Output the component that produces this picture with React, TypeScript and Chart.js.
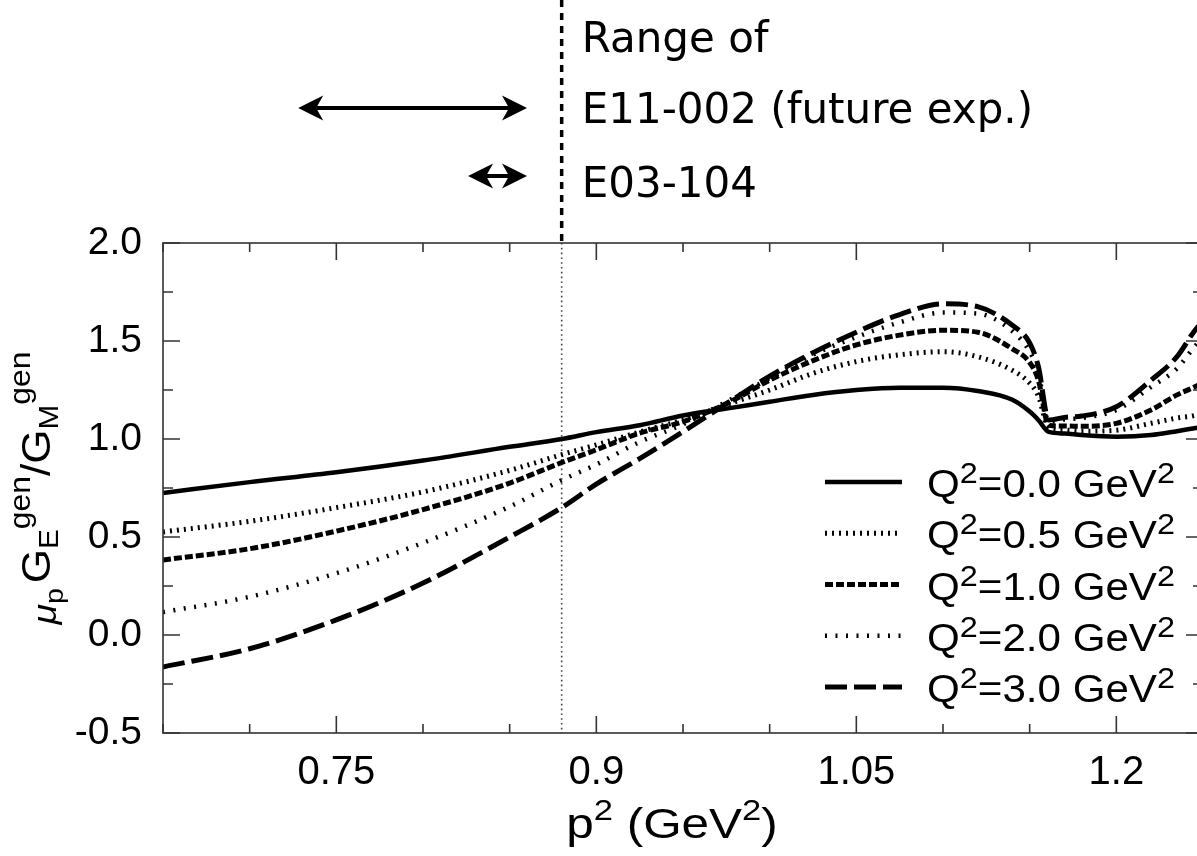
import React, { useEffect, useRef } from "react";
import { Chart, registerables } from "chart.js";

Chart.register(...registerables);

// ---------- data ----------
const p2 = [0.65, 0.70, 0.75, 0.80, 0.85, 0.88, 0.90, 0.925, 0.95, 0.975, 1.00, 1.025, 1.05, 1.075, 1.10, 1.12, 1.14, 1.15, 1.155, 1.161, 1.17, 1.18, 1.20, 1.22, 1.235, 1.245, 1.25];

const q2Labels = ["0.0", "0.5", "1.0", "2.0", "3.0"];

const ratioQ00 = [0.725, 0.78, 0.83, 0.89, 0.96, 1.00, 1.035, 1.07, 1.12, 1.155, 1.19, 1.225, 1.25, 1.262, 1.262, 1.245, 1.20, 1.14, 1.097, 1.036, 1.028, 1.02, 1.012, 1.02, 1.04, 1.055, 1.062];
const ratioQ05 = [0.526, 0.58, 0.65, 0.73, 0.84, 0.92, 0.97, 1.036, 1.097, 1.175, 1.25, 1.335, 1.395, 1.43, 1.445, 1.42, 1.35, 1.285, 1.22, 1.055, 1.046, 1.04, 1.045, 1.08, 1.107, 1.12, 1.135];
const ratioQ10 = [0.383, 0.44, 0.53, 0.64, 0.775, 0.88, 0.945, 1.03, 1.088, 1.18, 1.30, 1.40, 1.48, 1.53, 1.555, 1.545, 1.46, 1.39, 1.30, 1.07, 1.066, 1.065, 1.08, 1.148, 1.225, 1.265, 1.29];
const ratioQ20 = [0.117, 0.195, 0.315, 0.47, 0.655, 0.79, 0.87, 0.985, 1.075, 1.19, 1.31, 1.43, 1.52, 1.595, 1.645, 1.64, 1.55, 1.445, 1.34, 1.088, 1.10, 1.107, 1.148, 1.265, 1.36, 1.47, 1.52];
const ratioQ30 = [-0.163, -0.07, 0.077, 0.265, 0.50, 0.65, 0.77, 0.90, 1.037, 1.18, 1.32, 1.44, 1.545, 1.635, 1.69, 1.675, 1.58, 1.49, 1.37, 1.097, 1.11, 1.117, 1.165, 1.30, 1.42, 1.55, 1.60];

const xMin = 0.65;
const xMax = 1.25;
const xMajorTicks = [0.75, 0.9, 1.05, 1.2];
const xMinorStep = 0.05;
const yMin = -0.5;
const yMax = 2.0;
const yMajorStep = 0.5;
const yMinorStep = 0.25;

const protonMassSq = 0.88; // vertical line
const rangeE11 = [0.728, 0.86];
const rangeE03 = [0.826, 0.86];
const annotationLines = ["Range of", "E11-002 (future exp.)", "E03-104"];

// ---------- styles ----------
const SANS = '"Liberation Sans", Arial, Helvetica, sans-serif';
const COMIC = '"Comic Sans MS", "DejaVu Sans", sans-serif';

const series = [ratioQ00, ratioQ05, ratioQ10, ratioQ20, ratioQ30];
const dashes: number[][] = [[], [2, 5], [8, 3], [2, 8.5], [22, 7]];
const widths = [4.5, 5, 5, 4.5, 5];

type Seg = { t: string; size: number; dy?: number; style?: string; family?: string };

function segFont(s: Seg) {
  return `${s.style ? s.style + " " : ""}${s.size}px ${s.family || SANS}`;
}
function richWidth(ctx: CanvasRenderingContext2D, segs: Seg[]) {
  let w = 0;
  for (const s of segs) {
    ctx.font = segFont(s);
    w += ctx.measureText(s.t).width;
  }
  return w;
}
function drawRich(
  ctx: CanvasRenderingContext2D,
  segs: Seg[],
  x: number,
  y: number,
  align: "left" | "center",
  sx = 1
) {
  const w = richWidth(ctx, segs) * sx;
  const start = align === "center" ? x - w / 2 : x;
  ctx.save();
  ctx.translate(start, y);
  ctx.scale(sx, 1);
  ctx.textAlign = "left";
  ctx.textBaseline = "alphabetic";
  let cx = 0;
  for (const s of segs) {
    ctx.font = segFont(s);
    ctx.fillText(s.t, cx, s.dy || 0);
    cx += ctx.measureText(s.t).width;
  }
  ctx.restore();
}

function drawArrow(ctx: CanvasRenderingContext2D, x1: number, x2: number, y: number) {
  const head = 25, half = 12.5, notch = 7;
  ctx.lineWidth = 4;
  ctx.beginPath();
  ctx.moveTo(x1 + head - notch, y);
  ctx.lineTo(x2 - head + notch, y);
  ctx.stroke();
  const tip = (xt: number, dir: number) => {
    ctx.beginPath();
    ctx.moveTo(xt, y);
    ctx.lineTo(xt - dir * head, y - half);
    ctx.lineTo(xt - dir * (head - notch), y);
    ctx.lineTo(xt - dir * head, y + half);
    ctx.closePath();
    ctx.fill();
  };
  tip(x2, 1);
  tip(x1, -1);
}

const overlayPlugin = {
  id: "overlay",
  beforeDatasetsDraw(chart: any) {
    const ctx: CanvasRenderingContext2D = chart.ctx;
    const a = chart.chartArea;
    const xs = chart.scales.x;
    const px = xs.getPixelForValue(protonMassSq);
    ctx.save();
    ctx.strokeStyle = "#444";
    ctx.lineWidth = 1.6;
    ctx.setLineDash([1.6, 3.2]);
    ctx.beginPath();
    ctx.moveTo(px, a.top);
    ctx.lineTo(px, a.bottom);
    ctx.stroke();
    ctx.restore();
  },
  afterDraw(chart: any) {
    const ctx: CanvasRenderingContext2D = chart.ctx;
    const a = chart.chartArea;
    const xs = chart.scales.x;
    const ys = chart.scales.y;
    ctx.save();

    // frame
    ctx.strokeStyle = "#333";
    ctx.lineWidth = 1.6;
    ctx.setLineDash([]);
    ctx.strokeRect(a.left, a.top, a.right - a.left, a.bottom - a.top);

    // x ticks (inward, bottom & top)
    const nX = Math.round((xMax - xMin) / xMinorStep);
    for (let i = 0; i <= nX; i++) {
      const v = xMin + i * xMinorStep;
      const major = xMajorTicks.some((m) => Math.abs(m - v) < 1e-6);
      const L = major ? 17 : 9;
      const p = xs.getPixelForValue(v);
      ctx.beginPath();
      ctx.moveTo(p, a.bottom);
      ctx.lineTo(p, a.bottom - L);
      ctx.moveTo(p, a.top);
      ctx.lineTo(p, a.top + L);
      ctx.stroke();
    }
    // y ticks (inward, left & right)
    const nY = Math.round((yMax - yMin) / yMinorStep);
    for (let i = 0; i <= nY; i++) {
      const v = yMin + i * yMinorStep;
      const r = v / yMajorStep;
      const major = Math.abs(r - Math.round(r)) < 1e-6;
      const L = major ? 17 : 10;
      const p = ys.getPixelForValue(v);
      ctx.beginPath();
      ctx.moveTo(a.left, p);
      ctx.lineTo(a.left + L, p);
      ctx.moveTo(a.right, p);
      ctx.lineTo(a.right - L, p);
      ctx.stroke();
    }

    ctx.fillStyle = "#000";
    ctx.strokeStyle = "#000";

    // y-axis title (rotated, with sub/superscripts)
    ctx.save();
    ctx.translate(50, (a.top + a.bottom) / 2);
    ctx.rotate(-Math.PI / 2);
    drawRich(
      ctx,
      [
        { t: "μ", size: 34, dy: 6, style: "italic" },
        { t: "p", size: 26, dy: 13 },
        { t: " ", size: 16 },
        { t: "G", size: 40 },
        { t: "E", size: 27, dy: 8 },
        { t: "gen", size: 29, dy: -20 },
        { t: "/", size: 40 },
        { t: "G", size: 40 },
        { t: "M", size: 27, dy: 8 },
        { t: "gen", size: 29, dy: -20 },
      ],
      0,
      0,
      "center",
      1.1
    );
    ctx.restore();

    // x-axis title
    drawRich(
      ctx,
      [
        { t: "p", size: 43 },
        { t: "2", size: 30, dy: -18 },
        { t: " (GeV", size: 43 },
        { t: "2", size: 30, dy: -18 },
        { t: ")", size: 43 },
      ],
      672,
      838,
      "center",
      1.15
    );

    // legend
    const ds = chart.data.datasets;
    for (let i = 0; i < ds.length; i++) {
      const yc = 482 + i * 51.25;
      ctx.save();
      ctx.lineWidth = ds[i].borderWidth;
      ctx.setLineDash(ds[i].borderDash || []);
      ctx.lineCap = "butt";
      ctx.beginPath();
      ctx.moveTo(825, yc);
      ctx.lineTo(902, yc);
      ctx.stroke();
      ctx.restore();
      drawRich(
        ctx,
        [
          { t: "Q", size: 39 },
          { t: "2", size: 30, dy: -14 },
          { t: "=" + q2Labels[i] + " GeV", size: 39 },
          { t: "2", size: 30, dy: -14 },
        ],
        927,
        yc + 15,
        "left",
        1.08
      );
    }

    // top annotation: thick dashed line above plot
    const pxM = xs.getPixelForValue(protonMassSq);
    ctx.save();
    ctx.lineWidth = 3.5;
    ctx.setLineDash([7, 6]);
    ctx.beginPath();
    ctx.moveTo(pxM, 0);
    ctx.lineTo(pxM, a.top);
    ctx.stroke();
    ctx.restore();

    // arrows
    drawArrow(ctx, xs.getPixelForValue(rangeE11[0]), xs.getPixelForValue(rangeE11[1]), 108);
    drawArrow(ctx, xs.getPixelForValue(rangeE03[0]), xs.getPixelForValue(rangeE03[1]), 176);

    // annotation text
    ctx.font = `42px ${COMIC}`;
    ctx.textAlign = "left";
    ctx.textBaseline = "alphabetic";
    const tx = pxM + 20;
    const baselines = [52, 123, 197];
    annotationLines.forEach((t, i) => ctx.fillText(t, tx, baselines[i]));

    ctx.restore();
  },
};

export default function App() {
  const canvasRef = useRef<HTMLCanvasElement | null>(null);

  useEffect(() => {
    const canvas = canvasRef.current;
    if (!canvas) return;
    const datasets = series.map((vals, i) => ({
      label: `Q²=${q2Labels[i]} GeV²`,
      data: p2.map((x, j) => ({ x, y: vals[j] })),
      borderColor: "#000",
      backgroundColor: "#000",
      borderWidth: widths[i],
      borderDash: dashes[i],
      borderCapStyle: "butt" as const,
      pointRadius: 0,
      fill: false,
      cubicInterpolationMode: "monotone" as const,
    }));

    const chart = new Chart(canvas, {
      type: "line",
      data: { datasets },
      options: {
        responsive: false,
        animation: false,
        events: [],
        layout: { padding: { top: 243, right: 12, left: 0, bottom: 0 } },
        plugins: {
          legend: { display: false },
          title: { display: false },
          tooltip: { enabled: false },
        },
        scales: {
          x: {
            type: "linear",
            min: xMin,
            max: xMax,
            grid: { display: false, drawTicks: false },
            border: { display: false },
            afterBuildTicks: (scale: any) => {
              scale.ticks = xMajorTicks.map((v) => ({ value: v }));
            },
            afterFit: (scale: any) => {
              scale.height = 123;
              scale.paddingRight = 0;
              scale.paddingLeft = 0;
            },
            ticks: {
              autoSkip: false,
              maxRotation: 0,
              padding: 16,
              color: "#000",
              font: { family: SANS, size: 40 },
              callback: (v: any) => String(parseFloat(Number(v).toFixed(2))),
            },
          },
          y: {
            type: "linear",
            min: yMin,
            max: yMax,
            grid: { display: false, drawTicks: false },
            border: { display: false },
            afterFit: (scale: any) => {
              scale.width = 163;
            },
            ticks: {
              stepSize: yMajorStep,
              padding: 21,
              color: "#000",
              font: { family: SANS, size: 39 },
              callback: (v: any) => Number(v).toFixed(1),
            },
          },
        },
      },
      plugins: [overlayPlugin],
    });
    return () => chart.destroy();
  }, []);

  return (
    <div
      style={{
        position: "fixed",
        left: 0,
        top: 0,
        width: 1197,
        height: 856,
        overflow: "hidden",
        background: "#fff",
      }}
    >
      <canvas ref={canvasRef} width={1215} height={856} style={{ display: "block" }} />
    </div>
  );
}
